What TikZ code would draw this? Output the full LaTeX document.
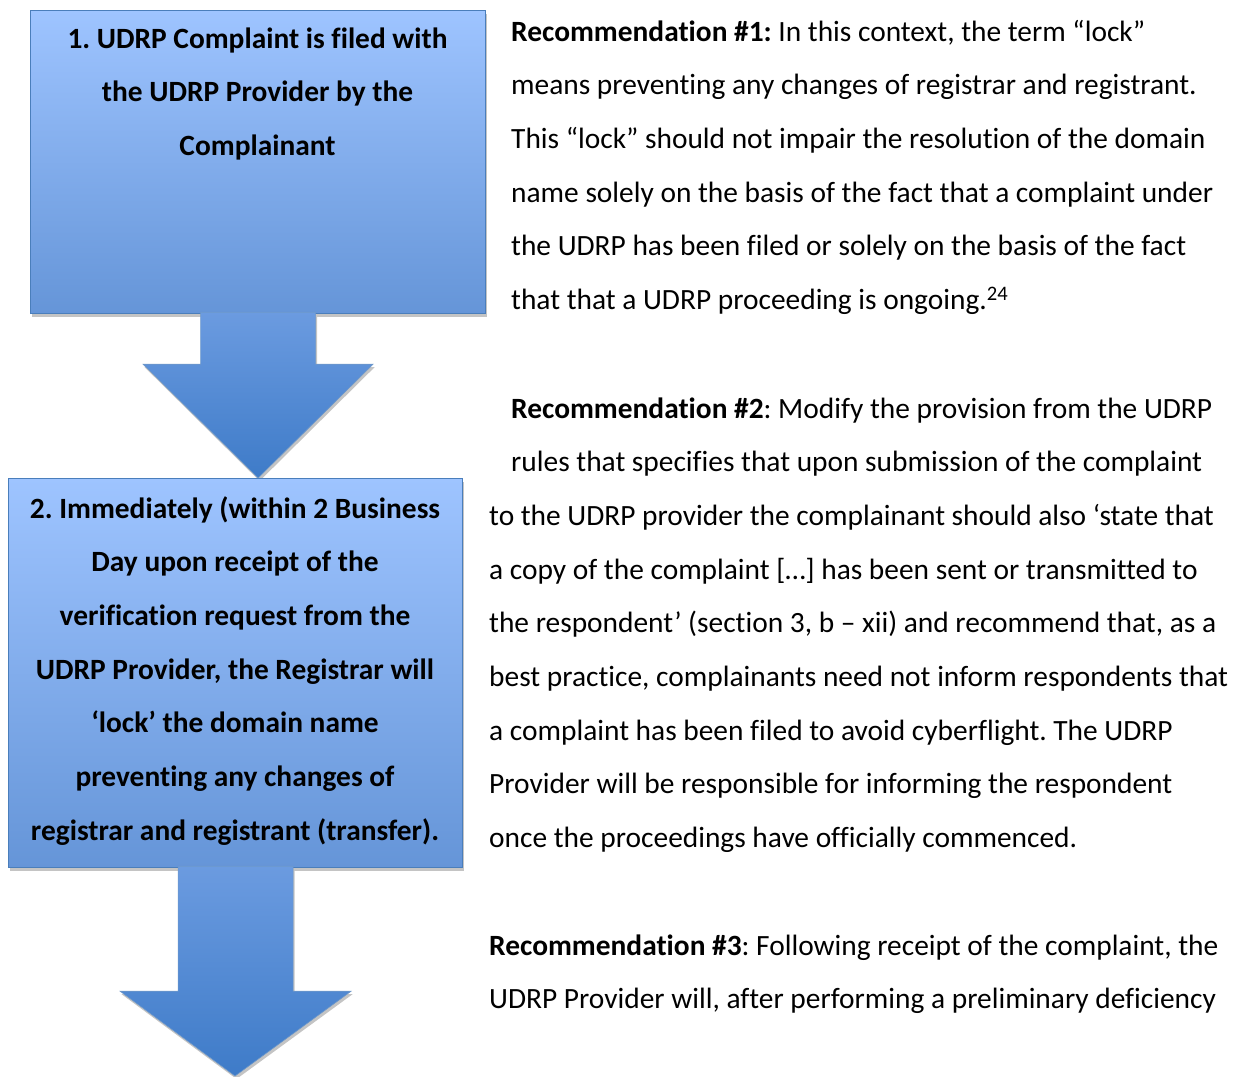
\documentclass[tikz,border=0pt]{standalone}
\usepackage{fontspec}
\setmainfont{Carlito}[Ligatures=NoCommon]
\usetikzlibrary{calc,shadows}
\definecolor{boxtop}{HTML}{9EC4FF}
\definecolor{boxbot}{HTML}{6595D8}
\definecolor{boxline}{HTML}{4A7EBB}
\definecolor{arrtop}{HTML}{6B9BE0}
\definecolor{arrbot}{HTML}{3E7BC8}
\definecolor{shadowgray}{HTML}{C4C4C4}
\pgfdeclarelayer{bg}
\pgfdeclarelayer{mid}
\pgfdeclarelayer{top}
\pgfsetlayers{bg,mid,main,top}
\frenchspacing
\begin{document}
\begin{tikzpicture}[x=1pt,y=-1pt,
  shadowed/.style={general shadow={fill=shadowgray, shadow xshift=1.5pt, shadow yshift=-3pt}},
  flowbox/.style={shadowed, draw=boxline, line width=1.2pt, top color=boxtop, bottom color=boxbot, rectangle, inner sep=0pt, anchor=north west},
  blockarrow/.style={shadowed, draw=boxline!80, line width=0.6pt, top color=arrtop, bottom color=arrbot},
  boxtext/.style={anchor=base, inner sep=0pt, font=\bfseries\fontsize{29.4}{53.7}\selectfont},
  bodytext/.style={anchor=base west, inner sep=0pt, font=\fontsize{29.4}{53.7}\selectfont}]
\useasboundingbox (0,0) rectangle (1236,1076);
\clip (0,0) rectangle (1236,1076);
% boxes
\begin{pgfonlayer}{bg}
\node[flowbox, minimum width=455pt, minimum height=303pt] (box1) at (30,10) {};
\end{pgfonlayer}
\node[flowbox, minimum width=454pt, minimum height=389pt] (box2) at (8,478) {};
\coordinate (end2) at (235,1076);
% arrow 1
\begin{pgfonlayer}{mid}
\path[blockarrow] let \p1=(box1.south), \p2=(box2.north) in
  (\x1-57.5pt,\y1+2pt) -- (\x1+57.5pt,\y1+2pt) -- (\x1+57.5pt,\y1-50pt) -- (\x1+115pt,\y1-50pt)
  -- (\x1,\y2) -- (\x1-115pt,\y1-50pt) -- (\x1-57.5pt,\y1-50pt) -- cycle;
\end{pgfonlayer}
% arrow 2
\begin{pgfonlayer}{top}
\path[blockarrow] let \p1=(box2.south), \p2=(end2) in
  (\x1-57.5pt,\y1+2pt) -- (\x1+57.5pt,\y1+2pt) -- (\x1+57.5pt,\y1-123pt) -- (\x1+115.5pt,\y1-123pt)
  -- (\x2,\y2) -- (\x1-115.5pt,\y1-123pt) -- (\x1-57.5pt,\y1-123pt) -- cycle;
\end{pgfonlayer}
% box texts
\node[boxtext] (t1) at (257.5,48) {\parbox[t]{450pt}{\centering
  1. UDRP Complaint is filed with\\
  the UDRP Provider by the\\
  Complainant}};
\node[boxtext] (t2) at (235,518) {\parbox[t]{450pt}{\centering
  2. Immediately (within 2 Business\\
  Day upon receipt of the\\
  verification request from the\\
  UDRP Provider, the Registrar will\\
  ‘lock’ the domain name\\
  preventing any changes of\\
  registrar and registrant (transfer).}};
% right column
\node[bodytext] (p1) at (511,41) {\parbox[t]{740pt}{\raggedright
  \textbf{Recommendation \#1:} In this context, the term “lock”\\
  means preventing any changes of registrar and registrant.\\
  This “lock” should not impair the resolution of the domain\\
  name solely on the basis of the fact that a complaint under\\
  the UDRP has been filed or solely on the basis of the fact\\
  that that a UDRP proceeding is ongoing.\textsuperscript{24}}};
\node[bodytext] (p2) at (489,418) {\parbox[t]{760pt}{\raggedright
  \hspace*{22pt}\textbf{Recommendation \#2}: Modify the provision from the UDRP\\
  \hspace*{22pt}rules that specifies that upon submission of the complaint\\
  to the UDRP provider the complainant should also ‘state that\\
  a copy of the complaint […] has been sent or transmitted to\\
  the respondent’ (section 3, b – xii) and recommend that, as a\\
  best practice, complainants need not inform respondents that\\
  a complaint has been filed to avoid cyberflight. The UDRP\\
  Provider will be responsible for informing the respondent\\
  once the proceedings have officially commenced.}};
\node[bodytext] (p3) at (489,955) {\parbox[t]{760pt}{\raggedright
  \textbf{Recommendation \#3}: Following receipt of the complaint, the\\
  UDRP Provider will, after performing a preliminary deficiency}};
\end{tikzpicture}
\end{document}
